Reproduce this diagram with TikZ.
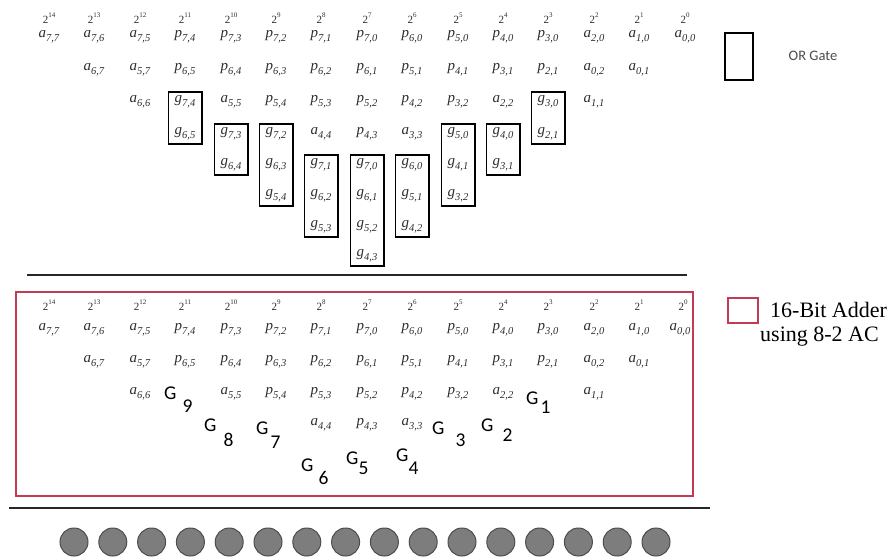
\documentclass[tikz,border=0pt]{standalone}
\usepackage{fontspec}
\setmainfont{Liberation Serif}
\newfontfamily\calib{Carlito}
\usetikzlibrary{fit}

\definecolor{adderred}{RGB}{196,58,84}
\definecolor{dotgray}{RGB}{125,125,125}
\definecolor{inkgray}{RGB}{45,45,45}

\newcommand{\bit}[2]{\textit{#1}\raisebox{-.3em}{\fontsize{10.5}{10.5}\selectfont\textit{#2}}}
\newcommand{\pow}[1]{2\raisebox{.5em}{\fontsize{7}{7}\selectfont #1}}
\newcommand{\gsub}[3]{G\hspace{#1pt}\raisebox{-#2pt}{#3}}

\tikzset{
  lbl/.style={inner sep=0pt, minimum width=26pt, minimum height=13pt, text=inkgray, font=\fontsize{15}{15}\selectfont},
  pw/.style={inner sep=0pt, text=inkgray, font=\fontsize{11}{11}\selectfont},
  orbox/.style={draw, line width=1.6pt, inner sep=3.5pt},
  glbl/.style={anchor=base west, inner sep=0pt, font=\calib\fontsize{19.5}{19.5}\selectfont},
  dot/.style={circle, draw=black!70, fill=dotgray, line width=1pt, minimum size=28pt, inner sep=0pt},
}

\begin{document}
\begin{tikzpicture}[x=1pt,y=-1pt]
	\useasboundingbox (0,0) rectangle (893,557);
	% --- OR gate scheme ---
	\node[pw] (e14) at (49,18) {\pow{14}};
	\node[pw] (e13) at (94,18) {\pow{13}};
	\node[pw] (e12) at (140,18) {\pow{12}};
	\node[pw] (e11) at (185,18) {\pow{11}};
	\node[pw] (e10) at (231,18) {\pow{10}};
	\node[pw] (e9) at (276,18) {\pow{9}};
	\node[pw] (e8) at (321,18) {\pow{8}};
	\node[pw] (e7) at (367,18) {\pow{7}};
	\node[pw] (e6) at (412,18) {\pow{6}};
	\node[pw] (e5) at (458,18) {\pow{5}};
	\node[pw] (e4) at (503,18) {\pow{4}};
	\node[pw] (e3) at (548,18) {\pow{3}};
	\node[pw] (e2) at (594,18) {\pow{2}};
	\node[pw] (e1) at (639,18) {\pow{1}};
	\node[pw] (e0) at (685,18) {\pow{0}};

	\node[lbl] (a77) at (49,37) {\bit{a}{7,7}};
	\node[lbl] (a76) at (94,37) {\bit{a}{7,6}};
	\node[lbl] (a75) at (140,37) {\bit{a}{7,5}};
	\node[lbl] (p74) at (185,37) {\bit{p}{7,4}};
	\node[lbl] (p73) at (231,37) {\bit{p}{7,3}};
	\node[lbl] (p72) at (276,37) {\bit{p}{7,2}};
	\node[lbl] (p71) at (321,37) {\bit{p}{7,1}};
	\node[lbl] (p70) at (367,37) {\bit{p}{7,0}};
	\node[lbl] (p60) at (412,37) {\bit{p}{6,0}};
	\node[lbl] (p50) at (458,37) {\bit{p}{5,0}};
	\node[lbl] (p40) at (503,37) {\bit{p}{4,0}};
	\node[lbl] (p30) at (548,37) {\bit{p}{3,0}};
	\node[lbl] (a20) at (594,37) {\bit{a}{2,0}};
	\node[lbl] (a10) at (639,37) {\bit{a}{1,0}};
	\node[lbl] (a00) at (685,37) {\bit{a}{0,0}};

	\node[lbl] (a67) at (94,70) {\bit{a}{6,7}};
	\node[lbl] (a57) at (140,70) {\bit{a}{5,7}};
	\node[lbl] (p65) at (185,70) {\bit{p}{6,5}};
	\node[lbl] (p64) at (231,70) {\bit{p}{6,4}};
	\node[lbl] (p63) at (276,70) {\bit{p}{6,3}};
	\node[lbl] (p62) at (321,70) {\bit{p}{6,2}};
	\node[lbl] (p61) at (367,70) {\bit{p}{6,1}};
	\node[lbl] (p51) at (412,70) {\bit{p}{5,1}};
	\node[lbl] (p41) at (458,70) {\bit{p}{4,1}};
	\node[lbl] (p31) at (503,70) {\bit{p}{3,1}};
	\node[lbl] (p21) at (548,70) {\bit{p}{2,1}};
	\node[lbl] (a02) at (594,70) {\bit{a}{0,2}};
	\node[lbl] (a01) at (639,70) {\bit{a}{0,1}};

	\node[lbl] (a66) at (140,102) {\bit{a}{6,6}};
	\node[lbl] (g74) at (185,102) {\bit{g}{7,4}};
	\node[lbl] (a55) at (231,102) {\bit{a}{5,5}};
	\node[lbl] (p54) at (276,102) {\bit{p}{5,4}};
	\node[lbl] (p53) at (321,102) {\bit{p}{5,3}};
	\node[lbl] (p52) at (367,102) {\bit{p}{5,2}};
	\node[lbl] (p42) at (412,102) {\bit{p}{4,2}};
	\node[lbl] (p32) at (458,102) {\bit{p}{3,2}};
	\node[lbl] (a22) at (503,102) {\bit{a}{2,2}};
	\node[lbl] (g30) at (548,102) {\bit{g}{3,0}};
	\node[lbl] (a11) at (594,102) {\bit{a}{1,1}};

	\node[lbl] (g65) at (185,134) {\bit{g}{6,5}};
	\node[lbl] (g73) at (231,134) {\bit{g}{7,3}};
	\node[lbl] (g72) at (276,134) {\bit{g}{7,2}};
	\node[lbl] (a44) at (321,134) {\bit{a}{4,4}};
	\node[lbl] (p43) at (367,134) {\bit{p}{4,3}};
	\node[lbl] (a33) at (412,134) {\bit{a}{3,3}};
	\node[lbl] (g50) at (458,134) {\bit{g}{5,0}};
	\node[lbl] (g40) at (503,134) {\bit{g}{4,0}};
	\node[lbl] (g21) at (548,134) {\bit{g}{2,1}};

	\node[lbl] (g64) at (231,165) {\bit{g}{6,4}};
	\node[lbl] (g63) at (276,165) {\bit{g}{6,3}};
	\node[lbl] (g71) at (321,165) {\bit{g}{7,1}};
	\node[lbl] (g70) at (367,165) {\bit{g}{7,0}};
	\node[lbl] (g60) at (412,165) {\bit{g}{6,0}};
	\node[lbl] (g41) at (458,165) {\bit{g}{4,1}};
	\node[lbl] (g31) at (503,165) {\bit{g}{3,1}};

	\node[lbl] (g54) at (276,196) {\bit{g}{5,4}};
	\node[lbl] (g62) at (321,196) {\bit{g}{6,2}};
	\node[lbl] (g61) at (367,196) {\bit{g}{6,1}};
	\node[lbl] (g51) at (412,196) {\bit{g}{5,1}};
	\node[lbl] (g32) at (458,196) {\bit{g}{3,2}};

	\node[lbl] (g53) at (321,227) {\bit{g}{5,3}};
	\node[lbl] (g52) at (367,227) {\bit{g}{5,2}};
	\node[lbl] (g42) at (412,227) {\bit{g}{4,2}};

	\node[lbl] (g43) at (367,256) {\bit{g}{4,3}};

	% OR gates
	\node[orbox, fit=(g74)(g65)] (or11) {};
	\node[orbox, fit=(g73)(g64)] (or10) {};
	\node[orbox, fit=(g72)(g54)] (or9) {};
	\node[orbox, fit=(g71)(g53)] (or8) {};
	\node[orbox, fit=(g70)(g43)] (or7) {};
	\node[orbox, fit=(g60)(g42)] (or6) {};
	\node[orbox, fit=(g50)(g32)] (or5) {};
	\node[orbox, fit=(g40)(g31)] (or4) {};
	\node[orbox, fit=(g30)(g21)] (or3) {};

	\node[draw, line width=1.8pt, minimum width=28pt, minimum height=47pt] (orkey) at (739,56.5) {};
	\node[text=black!70, font=\calib\fontsize{14.5}{14.5}\selectfont] (orkeytxt) at (813,56) {OR Gate};

	\draw[line width=2pt, black!85] (27,275) -- (687,275);

	% --- 16-bit adder ---
	\draw[adderred, line width=1.4pt] (16,292) rectangle (693,496);
	\node[draw=adderred, line width=1.4pt, minimum width=30pt, minimum height=25pt] (addkey) at (743,310.5) {};
	\node[anchor=west, inner sep=0pt, font=\fontsize{22}{22}\selectfont] (addtxt1) at (770,310) {16-Bit Adder};
	\node[anchor=west, inner sep=0pt, font=\fontsize{22}{22}\selectfont] (addtxt2) at (760,337) {using 8-2 AC};

	\node[pw] (le14) at (49,305) {\pow{14}};
	\node[pw] (le13) at (94,305) {\pow{13}};
	\node[pw] (le12) at (140,305) {\pow{12}};
	\node[pw] (le11) at (185,305) {\pow{11}};
	\node[pw] (le10) at (231,305) {\pow{10}};
	\node[pw] (le9) at (276,305) {\pow{9}};
	\node[pw] (le8) at (321,305) {\pow{8}};
	\node[pw] (le7) at (367,305) {\pow{7}};
	\node[pw] (le6) at (412,305) {\pow{6}};
	\node[pw] (le5) at (458,305) {\pow{5}};
	\node[pw] (le4) at (503,305) {\pow{4}};
	\node[pw] (le3) at (548,305) {\pow{3}};
	\node[pw] (le2) at (594,305) {\pow{2}};
	\node[pw] (le1) at (639,305) {\pow{1}};
	\node[pw] (le0) at (683,305) {\pow{0}};

	\node[lbl] (la77) at (49,330) {\bit{a}{7,7}};
	\node[lbl] (la76) at (94,330) {\bit{a}{7,6}};
	\node[lbl] (la75) at (140,330) {\bit{a}{7,5}};
	\node[lbl] (lp74) at (185,330) {\bit{p}{7,4}};
	\node[lbl] (lp73) at (231,330) {\bit{p}{7,3}};
	\node[lbl] (lp72) at (276,330) {\bit{p}{7,2}};
	\node[lbl] (lp71) at (321,330) {\bit{p}{7,1}};
	\node[lbl] (lp70) at (367,330) {\bit{p}{7,0}};
	\node[lbl] (lp60) at (412,330) {\bit{p}{6,0}};
	\node[lbl] (lp50) at (458,330) {\bit{p}{5,0}};
	\node[lbl] (lp40) at (503,330) {\bit{p}{4,0}};
	\node[lbl] (lp30) at (548,330) {\bit{p}{3,0}};
	\node[lbl] (la20) at (594,330) {\bit{a}{2,0}};
	\node[lbl] (la10) at (639,330) {\bit{a}{1,0}};
	\node[lbl] (la00) at (680,330) {\bit{a}{0,0}};

	\node[lbl] (la67) at (94,362) {\bit{a}{6,7}};
	\node[lbl] (la57) at (140,362) {\bit{a}{5,7}};
	\node[lbl] (lp65) at (185,362) {\bit{p}{6,5}};
	\node[lbl] (lp64) at (231,362) {\bit{p}{6,4}};
	\node[lbl] (lp63) at (276,362) {\bit{p}{6,3}};
	\node[lbl] (lp62) at (321,362) {\bit{p}{6,2}};
	\node[lbl] (lp61) at (367,362) {\bit{p}{6,1}};
	\node[lbl] (lp51) at (412,362) {\bit{p}{5,1}};
	\node[lbl] (lp41) at (458,362) {\bit{p}{4,1}};
	\node[lbl] (lp31) at (503,362) {\bit{p}{3,1}};
	\node[lbl] (lp21) at (548,362) {\bit{p}{2,1}};
	\node[lbl] (la02) at (594,362) {\bit{a}{0,2}};
	\node[lbl] (la01) at (639,362) {\bit{a}{0,1}};

	\node[lbl] (la66) at (140,394) {\bit{a}{6,6}};
	\node[lbl] (la55) at (231,394) {\bit{a}{5,5}};
	\node[lbl] (lp54) at (276,394) {\bit{p}{5,4}};
	\node[lbl] (lp53) at (321,394) {\bit{p}{5,3}};
	\node[lbl] (lp52) at (367,394) {\bit{p}{5,2}};
	\node[lbl] (lp42) at (412,394) {\bit{p}{4,2}};
	\node[lbl] (lp32) at (458,394) {\bit{p}{3,2}};
	\node[lbl] (la22) at (503,394) {\bit{a}{2,2}};
	\node[lbl] (la11) at (594,394) {\bit{a}{1,1}};

	\node[lbl] (la44) at (321,425) {\bit{a}{4,4}};
	\node[lbl] (lp43) at (367,425) {\bit{p}{4,3}};
	\node[lbl] (la33) at (412,425) {\bit{a}{3,3}};

	% gate labels
	\node[glbl] (G9) at (164,399.5) {\gsub{6}{13}{9}};
	\node[glbl] (G8) at (204,431.5) {\gsub{7}{15}{8}};
	\node[glbl] (G7) at (256,434.5) {\gsub{2}{14}{7}};
	\node[glbl] (G6) at (301,471.5) {\gsub{5}{13}{6}};
	\node[glbl] (G5) at (346,464.5) {\gsub{0}{10}{5}};
	\node[glbl] (G4) at (396,461.5) {\gsub{0}{13}{4}};
	\node[glbl] (G3) at (432,434.5) {\gsub{11}{12}{3}};
	\node[glbl] (G2) at (481,431.5) {\gsub{9}{10}{2}};
	\node[glbl] (G1) at (526,404.5) {\gsub{2}{9}{1}};

	\draw[line width=2pt, black!85] (9,508) -- (710,508);

	% output bits
	\node[dot] (s15) at (74,542) {};
	\node[dot] (s14) at (112.8,542) {};
	\node[dot] (s13) at (151.6,542) {};
	\node[dot] (s12) at (190.4,542) {};
	\node[dot] (s11) at (229.2,542) {};
	\node[dot] (s10) at (268,542) {};
	\node[dot] (s9) at (306.8,542) {};
	\node[dot] (s8) at (345.6,542) {};
	\node[dot] (s7) at (384.4,542) {};
	\node[dot] (s6) at (423.2,542) {};
	\node[dot] (s5) at (462,542) {};
	\node[dot] (s4) at (500.8,542) {};
	\node[dot] (s3) at (539.6,542) {};
	\node[dot] (s2) at (578.4,542) {};
	\node[dot] (s1) at (617.2,542) {};
	\node[dot] (s0) at (656,542) {};
\end{tikzpicture}
\end{document}
